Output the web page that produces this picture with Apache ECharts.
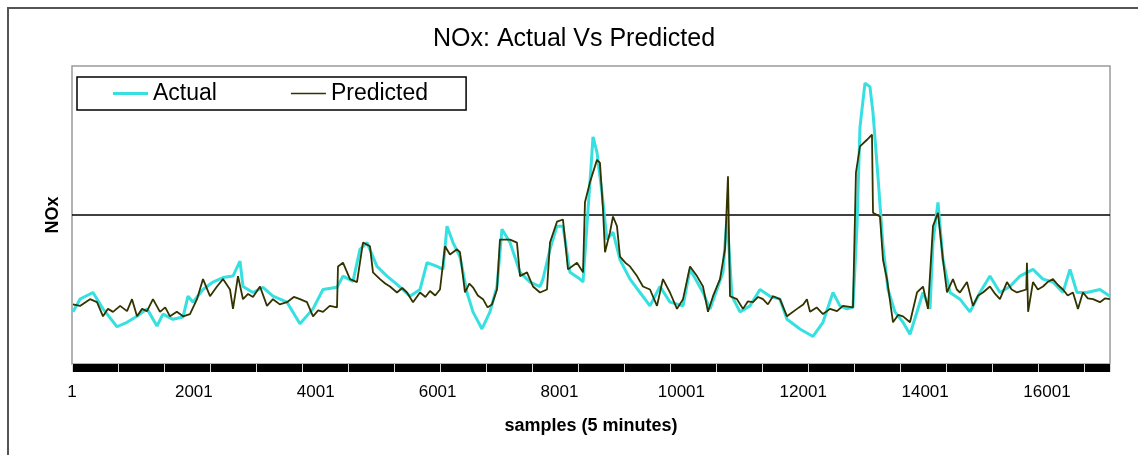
<!DOCTYPE html>
<html>
<head>
<meta charset="utf-8">
<title>NOx: Actual Vs Predicted</title>
<script src="https://cdn.jsdelivr.net/npm/echarts@6/dist/echarts.min.js"></script>
<style>
  html, body { margin: 0; padding: 0; background: #fff; }
  #chart { width: 1138px; height: 455px; }
</style>
</head>
<body>
<div id="chart"></div>
<script>
// sample number (0-based) and NOx value for each series
var actualSamples = [16, 131, 345, 509, 738, 903, 1067, 1231, 1395, 1493, 1657, 1822, 1904, 1986, 2150, 2314,
  2478, 2642, 2757, 2806, 2970, 3134, 3298, 3528, 3741, 3955, 4119, 4349, 4447, 4611, 4726, 4841,
  5005, 5169, 5333, 5547, 5711, 5826, 5990, 6088, 6154, 6252, 6367, 6482, 6580, 6728, 6859, 6974,
  7056, 7188, 7352, 7516, 7680, 7729, 7844, 7959, 8057, 8172, 8336, 8386, 8500, 8550, 8615, 8697,
  8779, 8878, 8993, 9157, 9321, 9485, 9649, 9813, 10027, 10142, 10355, 10470, 10584, 10683, 10749, 10831,
  10962, 11126, 11290, 11454, 11618, 11733, 11946, 12160, 12324, 12488, 12603, 12718, 12816, 12882, 12931, 13013,
  13095, 13145, 13226, 13309, 13391, 13505, 13637, 13752, 13867, 13965, 14080, 14129, 14211, 14293, 14408, 14572,
  14736, 14900, 15064, 15228, 15392, 15556, 15770, 15934, 16098, 16262, 16377, 16492, 16656, 16869, 17033];
var actualValues = [35, 43.5, 48, 37, 25, 28, 32, 37, 25.5, 33.5, 30, 31.5, 45.5, 41.5, 50, 55,
  58, 59, 69, 52, 48, 51.5, 45.5, 41.5, 27, 37, 50, 51.5, 59, 55.5, 77, 81.5,
  65.5, 59, 53.5, 45.5, 50, 68, 65.5, 63.5, 92.5, 81.5, 72, 48, 35, 23.5, 35, 52,
  90.5, 81.5, 61.5, 55, 52, 57, 77, 92.5, 92.5, 61.5, 57, 55, 122, 152.5, 142, 115,
  83.5, 88.5, 70, 57, 48, 39, 52, 41.5, 39, 63.5, 48, 37, 50, 61.5, 99, 45.5,
  35, 39, 50, 45.5, 43.5, 30, 23.5, 18.5, 28, 48, 39, 37, 38, 92.5, 159, 188.5,
  186, 168.5, 126, 79, 50, 35, 28, 20, 35, 48, 37, 81.5, 108.5, 70, 48, 43.5,
  35, 48, 59, 48, 52, 59, 63.5, 57, 55, 48, 63.5, 48, 48, 50, 45.5];

var predictedSamples = [16, 131, 295, 410, 509, 590, 673, 790, 903, 985, 1067, 1150, 1231, 1329, 1444, 1530,
  1608, 1720, 1822, 1936, 2051, 2150, 2265, 2379, 2478, 2593, 2642, 2724, 2806, 2890, 2970, 3085,
  3200, 3298, 3410, 3528, 3640, 3741, 3856, 3955, 4040, 4119, 4230, 4349, 4365, 4447, 4562, 4677,
  4775, 4890, 4939, 5054, 5140, 5218, 5333, 5420, 5497, 5596, 5711, 5800, 5875, 5960, 6039, 6121,
  6203, 6318, 6367, 6449, 6520, 6580, 6660, 6745, 6820, 6892, 6974, 7023, 7188, 7302, 7352, 7467,
  7565, 7680, 7795, 7844, 7959, 8057, 8139, 8287, 8386, 8418, 8500, 8615, 8664, 8714, 8747, 8829,
  8878, 8943, 8993, 9080, 9157, 9272, 9370, 9485, 9600, 9698, 9813, 9928, 10027, 10142, 10256, 10355,
  10437, 10519, 10634, 10716, 10765, 10798, 10913, 11011, 11090, 11175, 11260, 11339, 11420, 11503, 11618, 11733,
  11897, 12000, 12060, 12111, 12220, 12324, 12440, 12554, 12652, 12816, 12865, 12931, 13046, 13128, 13145, 13259,
  13309, 13374, 13473, 13560, 13637, 13752, 13867, 13965, 14047, 14129, 14211, 14293, 14359, 14457, 14520, 14572,
  14687, 14785, 14870, 14949, 15064, 15150, 15228, 15343, 15420, 15507, 15660, 15671, 15690, 15770, 15850, 15934,
  16010, 16098, 16180, 16262, 16340, 16426, 16508, 16590, 16670, 16755, 16869, 16950, 17033];
var predictedValues = [40, 39, 43.5, 41.5, 32, 37, 35, 39, 35.5, 43.5, 32, 37, 35.5, 43.5, 35, 38,
  32, 35, 32, 33.5, 43.5, 57, 45.5, 52, 57, 50, 37, 59, 43.5, 47, 45, 52,
  39, 43.5, 40, 41.5, 45, 43.5, 41.5, 32, 36, 35, 39, 38, 65.5, 68, 57, 55,
  81.5, 79, 61.5, 57, 54, 52, 48, 51, 48, 41.5, 48, 45, 49, 46, 50, 79,
  73.5, 77, 75, 48, 54, 51.5, 46, 43.5, 38, 40, 50, 83.5, 83.5, 81.5, 59, 61.5,
  52, 48, 50, 81.5, 95.5, 97, 63.5, 68, 61.5, 108.5, 122, 137, 135, 103.5, 75, 88.5,
  99, 92.5, 72, 68, 65.5, 59, 52, 50, 39, 57, 48, 37, 43.5, 65.5, 59, 52,
  35, 45.5, 57, 77, 126, 45.5, 43.5, 37, 42, 41.5, 45, 43.5, 40, 45.5, 43.5, 32,
  37, 40, 43.5, 35, 38, 33.5, 37, 35.5, 39, 38, 128.5, 146, 150.5, 154, 101.5, 99,
  70, 57, 28, 33, 32, 28, 48, 52, 37, 92.5, 101.5, 70, 48, 57, 50, 48,
  55, 39, 46, 48, 52, 47, 43.5, 55, 50, 48, 50, 68, 35, 55, 50, 52,
  55, 57, 53, 50, 46, 48, 37, 48, 44, 43.5, 41.5, 44, 43.5];

var sampleCount = 17034;
var labelStep = 2000;
var tickStep = 755;

function pairs(xs, ys) {
  return xs.map(function (x, i) { return [x, ys[i]]; });
}

var chart = echarts.init(document.getElementById('chart'));

var option = {
  animation: false,
  backgroundColor: '#fff',
  title: {
    text: 'NOx: Actual Vs Predicted',
    left: 428,
    top: 22,
    textStyle: {
      fontFamily: 'Liberation Sans',
      fontSize: 25,
      fontWeight: 'normal',
      color: '#000'
    }
  },
  legend: {
    data: [
      { name: 'Actual', icon: 'path://M0,0h35v3h-35z' },
      { name: 'Predicted', icon: 'path://M0,0h35v1.5h-35z' }
    ],
    left: 77,
    top: 77,
    padding: [5, 38, 5, 36],
    itemGap: 74,
    itemWidth: 35,
    itemHeight: 14,
    borderColor: '#000',
    borderWidth: 1.5,
    backgroundColor: '#fff',
    textStyle: {
      fontFamily: 'Liberation Sans',
      fontSize: 23,
      color: '#000'
    }
  },
  grid: {
    left: 72,
    top: 66,
    width: 1038,
    height: 298,
    show: true,
    borderColor: '#9a9a9a',
    borderWidth: 1.5,
    backgroundColor: '#fff'
  },
  xAxis: [
    {
      // data axis with tick labels and name
      type: 'value',
      position: 'bottom',
      min: 0,
      max: sampleCount,
      interval: labelStep,
      axisLine: { show: false },
      axisTick: { show: false },
      splitLine: { show: false },
      axisLabel: {
        margin: 20,
        showMaxLabel: false,
        fontFamily: 'Liberation Sans',
        fontSize: 17,
        color: '#000',
        formatter: function (v) { return String(v + 1); }
      },
      name: 'samples (5 minutes)',
      nameLocation: 'middle',
      nameGap: 53,
      nameTextStyle: {
        fontFamily: 'Liberation Sans',
        fontSize: 18,
        fontWeight: 'bold',
        color: '#000'
      }
    },
    {
      // thick black band of the category ticks
      type: 'value',
      position: 'bottom',
      min: 0,
      max: sampleCount,
      offset: 4,
      axisLine: { show: true, lineStyle: { color: '#000', width: 8, cap: 'butt' } },
      axisTick: { show: false },
      axisLabel: { show: false },
      splitLine: { show: false }
    },
    {
      // light breaks in the band
      type: 'value',
      position: 'bottom',
      min: 0,
      max: sampleCount,
      interval: tickStep,
      z: 5,
      axisLine: { show: false },
      axisTick: { show: true, length: 8, lineStyle: { color: '#d8d8d8', width: 1 } },
      axisLabel: { show: false },
      splitLine: { show: false }
    }
  ],
  yAxis: {
    type: 'value',
    min: 0,
    max: 200,
    interval: 100,
    axisLine: { show: false },
    axisTick: { show: false },
    axisLabel: { show: false },
    splitLine: {
      show: true,
      showMinLine: false,
      showMaxLine: false,
      lineStyle: { color: '#000', width: 1.5 }
    },
    name: 'NOx',
    nameLocation: 'middle',
    nameRotate: 90,
    nameGap: 10,
    nameTextStyle: {
      fontFamily: 'Liberation Sans',
      fontSize: 18,
      fontWeight: 'bold',
      color: '#000'
    }
  },
  graphic: [
    {
      type: 'rect',
      shape: { x: 8, y: 8, width: 1200, height: 500 },
      style: { fill: 'none', stroke: '#555', lineWidth: 2 },
      silent: true,
      z: 10
    }
  ],
  series: [
    {
      name: 'Actual',
      type: 'line',
      xAxisIndex: 0,
      symbol: 'none',
      lineStyle: { color: '#36e0e0', width: 3 },
      itemStyle: { color: '#36e0e0' },
      data: pairs(actualSamples, actualValues)
    },
    {
      name: 'Predicted',
      type: 'line',
      xAxisIndex: 0,
      symbol: 'none',
      lineStyle: { color: '#333300', width: 1.8 },
      itemStyle: { color: '#333300' },
      data: pairs(predictedSamples, predictedValues)
    }
  ]
};

chart.setOption(option);
</script>
</body>
</html>
